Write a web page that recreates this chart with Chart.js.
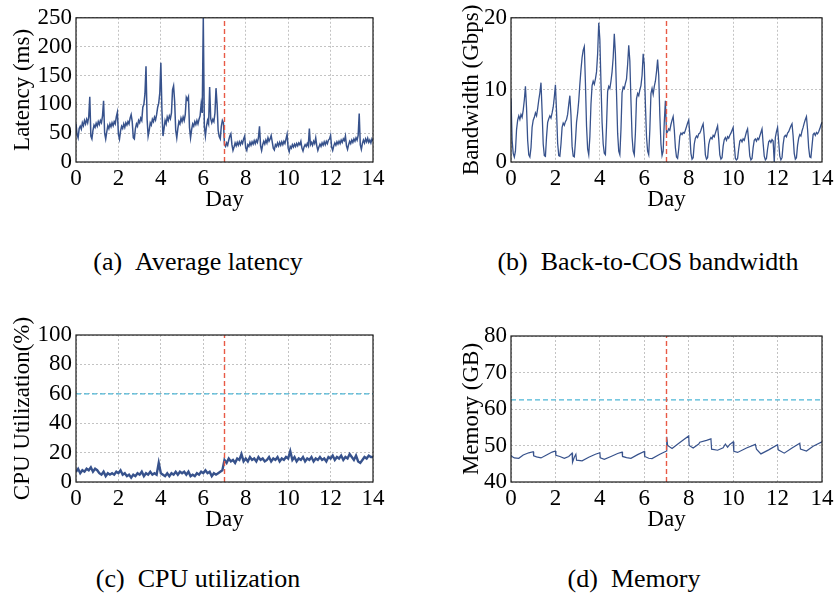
<!DOCTYPE html>
<html>
<head>
<meta charset="utf-8">
<script src="https://cdn.jsdelivr.net/npm/chart.js@4.4.1/dist/chart.umd.min.js"></script>
<style>
  html, body { margin: 0; padding: 0; background: #fff; }
  #page { position: relative; width: 837px; height: 595px; overflow: hidden; }
  canvas { position: absolute; }
  .cap { position: absolute; font-family: "Liberation Serif", "DejaVu Serif", serif; font-size: 26px; color: #000; white-space: nowrap; transform: translateX(-50%); line-height: 1; }
</style>
</head>
<body>
<div id="page">
  <canvas id="latChart" width="400" height="215" style="left:0;top:0"></canvas>
  <canvas id="bwChart" width="397" height="215" style="left:440px;top:0"></canvas>
  <canvas id="cpuChart" width="400" height="235" style="left:0;top:300px"></canvas>
  <canvas id="memChart" width="397" height="235" style="left:440px;top:300px"></canvas>
  <div class="cap" style="left:198px;top:249px">(a)&nbsp;&nbsp;Average latency</div>
  <div class="cap" style="left:648px;top:249px">(b)&nbsp;&nbsp;Back-to-COS bandwidth</div>
  <div class="cap" style="left:198px;top:566px">(c)&nbsp;&nbsp;CPU utilization</div>
  <div class="cap" style="left:634px;top:566px">(d)&nbsp;&nbsp;Memory</div>
</div>
<script>
/* global Chart */

// x axis: days, one sample every 0.05 day for latency / bandwidth, 0.1 day for CPU
var DAY_TICKS = [0, 2, 4, 6, 8, 10, 12, 14];
var SPLIT_DAY = 7;
var CPU_LIMIT = 60;
var MEM_LIMIT = 62.5;

var LAT_STEP = 0.05;
// latency (ms), one row per day
var LATENCY_MS = [
  66, 48, 42, 58, 62, 57, 68, 63, 72, 66, 74, 68, 78, 113, 45, 40, 55, 64, 60, 67,
  62, 70, 65, 72, 68, 80, 106, 50, 40, 52, 63, 58, 66, 61, 68, 63, 70, 66, 78, 86,
  48, 40, 54, 62, 58, 66, 60, 68, 64, 70, 66, 76, 82, 70, 42, 40, 58, 66, 62, 72,
  68, 76, 72, 95, 100, 118, 166, 75, 45, 55, 68, 64, 74, 70, 78, 73, 82, 95, 102, 120,
  172, 90, 45, 58, 72, 66, 78, 72, 80, 75, 85, 125, 132, 105, 55, 42, 58, 70, 66, 76,
  70, 78, 72, 82, 112, 108, 113, 60, 42, 56, 66, 62, 70, 65, 72, 66, 74, 80, 100, 85,
  250, 62, 45, 62, 72, 66, 130, 75, 68, 74, 70, 85, 128, 100, 55, 44, 40, 62, 72, 68,
  30, 27, 33, 29, 38, 45, 49, 30, 20, 26, 33, 28, 34, 29, 35, 30, 36, 32, 40, 45,
  24, 20, 30, 27, 34, 29, 35, 31, 37, 32, 38, 34, 42, 62, 28, 20, 30, 36, 31, 38,
  33, 42, 36, 40, 46, 35, 24, 21, 30, 27, 33, 28, 34, 29, 35, 30, 36, 32, 40, 48,
  24, 18, 27, 24, 30, 26, 31, 27, 32, 28, 33, 30, 36, 24, 19, 26, 30, 27, 32, 28,
  58, 30, 34, 29, 36, 32, 42, 28, 20, 26, 31, 27, 33, 29, 35, 30, 36, 32, 38, 40,
  46, 26, 20, 28, 33, 29, 35, 31, 36, 32, 38, 34, 40, 37, 45, 28, 22, 30, 36, 32,
  38, 34, 40, 36, 42, 38, 46, 84, 30, 22, 32, 38, 33, 40, 35, 41, 34, 38, 33, 40,
  36
];

var BW_STEP = 0.05;
// back-to-COS bandwidth (Gbps), one row per day
var BANDWIDTH_GBPS = [
  8.8, 3.0, 1.2, 0.7, 1.5, 4.5, 5.8, 6.4, 5.9, 6.6, 6.2, 7.2, 8.6, 10.5, 7.5, 3.0, 1.0, 0.7, 2.0, 4.8,
  5.8, 6.2, 6.8, 6.4, 7.4, 8.6, 9.6, 11.0, 7.0, 2.5, 0.9, 0.8, 3.5, 5.5, 6.0, 6.4, 6.1, 6.8, 7.6, 9.0,
  10.7, 7.0, 2.6, 0.9, 0.8, 2.5, 4.8, 5.4, 5.1, 5.6, 5.9, 6.6, 8.0, 9.2, 6.5, 2.2, 0.8, 0.7, 2.8, 5.5,
  6.8, 8.5, 10.8, 12.8, 14.5, 15.5, 16.0, 11.0, 5.0, 1.8, 1.0, 3.5, 8.0, 10.6, 11.2, 10.8, 11.5, 12.5, 15.0, 19.3,
  17.0, 11.0, 5.5, 2.5, 1.2, 1.0, 5.0, 9.8, 10.5, 10.2, 11.2, 12.5, 14.5, 17.8, 15.0, 9.5, 4.0, 1.5, 1.0, 4.5,
  9.6, 10.4, 10.2, 10.9, 11.5, 13.5, 16.2, 14.0, 8.5, 3.5, 1.5, 1.0, 4.0, 8.8, 9.5, 9.2, 10.0, 10.6, 12.0, 15.0,
  13.5, 8.0, 3.5, 1.5, 1.0, 4.5, 9.5, 10.2, 9.4, 10.5, 11.2, 12.5, 14.2, 12.0, 6.5, 2.5, 0.9, 1.5, 5.5, 8.5,
  4.0, 4.2, 4.6, 4.4, 5.2, 5.8, 6.3, 4.5, 2.0, 0.7, 0.5, 1.8, 3.6, 4.0, 3.8, 4.1, 4.0, 4.4, 4.9, 5.4,
  5.8, 3.8, 1.2, 0.4, 0.6, 2.5, 3.3, 3.6, 3.4, 3.9, 4.0, 4.4, 4.9, 5.3, 3.5, 1.0, 0.4, 0.6, 2.4, 3.1,
  3.4, 3.2, 3.7, 3.5, 4.0, 4.5, 5.0, 3.2, 1.0, 0.4, 0.6, 2.2, 3.1, 3.4, 3.0, 3.5, 3.3, 3.7, 4.0, 4.4,
  4.8, 2.5, 0.5, 0.3, 0.5, 1.8, 2.9, 3.1, 2.8, 3.2, 3.0, 3.6, 4.2, 4.6, 2.8, 0.8, 0.3, 0.5, 2.0, 3.0,
  3.2, 2.9, 3.3, 3.1, 3.6, 4.1, 4.6, 2.6, 0.8, 0.3, 0.5, 1.8, 2.8, 3.0, 2.7, 3.1, 2.9, 0.0, 3.4, 4.2,
  4.8, 2.8, 0.8, 0.3, 0.6, 2.4, 3.5, 3.7, 3.5, 4.0, 4.2, 4.6, 5.0, 5.3, 3.6, 1.2, 0.4, 0.6, 2.3, 3.3,
  3.8, 3.6, 4.3, 4.8, 5.4, 5.9, 6.3, 4.5, 2.0, 0.7, 0.6, 2.2, 3.8, 4.0, 3.7, 4.1, 3.9, 4.2, 4.6, 5.1,
  5.5
];

var CPU_STEP = 0.1;
// CPU utilization (%), one row per day
var CPU_PCT = [
  7, 9, 6, 8, 7, 9, 8, 10, 7, 9,
  8, 6, 5, 7, 4, 6, 5, 6, 5, 7,
  6, 8, 5, 6, 4, 5, 3, 5, 4, 6,
  5, 7, 4, 6, 5, 7, 5, 6, 5, 13,
  6, 5, 4, 6, 4, 6, 5, 7, 5, 7,
  6, 7, 5, 7, 4, 5, 4, 6, 5, 7,
  6, 8, 6, 7, 4, 6, 5, 6, 7, 8,
  15, 13, 16, 14, 15, 13, 16, 15, 19, 14,
  16, 14, 17, 15, 16, 14, 17, 15, 16, 14,
  15, 17, 14, 16, 15, 17, 14, 16, 15, 17,
  16, 21, 15, 17, 14, 16, 15, 17, 14, 16,
  15, 17, 14, 16, 15, 17, 15, 16, 14, 17,
  16, 18, 15, 17, 16, 18, 15, 17, 16, 19,
  17, 15, 18, 14, 13, 15, 17, 16, 18, 17,
  17
];

// memory (GB): sawtooth, so sampled at its corners
var MEM_DAYS = [
  0.00, 0.05, 0.15, 0.35, 0.55, 0.80, 1.00, 1.02, 1.15, 1.35, 1.60, 1.85, 2.00, 2.02, 2.20, 2.40,
  2.60, 2.75, 2.77, 2.85, 2.92, 2.95, 3.20, 3.50, 3.80, 4.00, 4.02, 4.20, 4.50, 4.80, 5.00, 5.02,
  5.20, 5.40, 5.70, 6.00, 6.02, 6.20, 6.35, 6.70, 7.00, 7.01, 7.05, 7.25, 7.60, 8.00, 8.02, 8.20,
  8.45, 8.50, 8.80, 9.00, 9.03, 9.30, 9.55, 9.65, 9.75, 9.85, 10.00, 10.03, 10.20, 10.60, 11.00,
  11.05, 11.25, 11.60, 12.00, 12.03, 12.30, 12.65, 13.00, 13.03, 13.30, 13.60, 14.00
];
var MEM_GB = [
  47.3, 47.0, 46.6, 46.5, 47.4, 48.0, 48.3, 47.2, 46.9, 46.6, 47.4, 48.2, 48.5, 47.3, 47.0, 46.5,
  47.0, 47.9, 45.4, 46.8, 47.6, 46.0, 45.8, 46.8, 47.6, 48.0, 46.6, 46.2, 47.0, 47.8, 48.2, 47.0,
  46.7, 46.5, 47.5, 48.4, 47.0, 46.5, 46.4, 47.6, 48.5, 52.4, 50.0, 49.2, 50.8, 52.6, 50.0, 49.3,
  50.4, 50.9, 51.4, 51.8, 49.0, 48.7, 49.4, 50.4, 49.5, 50.3, 51.0, 48.4, 48.1, 49.3, 50.3,
  49.0, 47.7, 48.8, 50.2, 48.8, 47.9, 49.3, 50.6, 49.0, 48.5, 49.8, 51.0
];

var SERIES_COLOR = "#37528c";
var SPLIT_COLOR = "#e85a45";
var LIMIT_COLOR = "#4cb6d6";
var FONT = '"Liberation Serif", "DejaVu Serif", serif';

Chart.defaults.font.family = FONT;
Chart.defaults.color = "#000";

function qs(id) {
  return document.getElementById(id);
}

function sampled(values, step) {
  return values.map(function (v, i) { return { x: i * step, y: v }; });
}

function paired(xs, ys) {
  return xs.map(function (x, i) { return { x: x, y: ys[i] }; });
}

var framePlugin = {
  id: "frame",
  afterDraw: function (chart) {
    var a = chart.chartArea, ctx = chart.ctx;
    ctx.save();
    ctx.strokeStyle = "#1a1a1a";
    ctx.lineWidth = 1.2;
    ctx.strokeRect(a.left, a.top, a.right - a.left, a.bottom - a.top);
    ctx.restore();
  },
};

function splitLine(yMin, yMax) {
  return {
    data: [{ x: SPLIT_DAY, y: yMin }, { x: SPLIT_DAY, y: yMax }],
    borderColor: SPLIT_COLOR, borderWidth: 1.4, borderDash: [5, 3], pointRadius: 0,
  };
}

function limitLine(v) {
  return {
    data: [{ x: DAY_TICKS[0], y: v }, { x: DAY_TICKS[DAY_TICKS.length - 1], y: v }],
    borderColor: LIMIT_COLOR, borderWidth: 1.2, borderDash: [5, 3], pointRadius: 0,
  };
}

function seriesLine(points, width) {
  return { data: points, borderColor: SERIES_COLOR, borderWidth: width, pointRadius: 0, tension: 0 };
}

function makeChart(id, c) {
  var tickFont = { size: 23, family: FONT };
  var grid = { color: "#b4b4b4", lineWidth: 0.8, drawTicks: false };
  var border = { display: false, dash: [2, 2] };
  // eslint-disable-next-line no-new
  new Chart(qs(id), {
    type: "line",
    data: { datasets: c.datasets },
    options: {
      responsive: false,
      animation: false,
      events: [],
      layout: { padding: { top: c.padTop, right: c.padRight, left: 0, bottom: 0 } },
      plugins: { legend: { display: false }, tooltip: { enabled: false } },
      scales: {
        x: {
          type: "linear", min: DAY_TICKS[0], max: DAY_TICKS[DAY_TICKS.length - 1],
          afterBuildTicks: function (s) { s.ticks = DAY_TICKS.map(function (v) { return { value: v }; }); },
          ticks: { font: tickFont, padding: 3, autoSkip: false, maxRotation: 0 },
          grid: grid, border: border,
          title: { display: true, text: "Day", font: tickFont, padding: { top: 0, bottom: 1 } },
          afterFit: function (s) { s.height = c.xHeight; },
        },
        y: {
          type: "linear", min: c.yTicks[0], max: c.yTicks[c.yTicks.length - 1],
          afterBuildTicks: function (s) { s.ticks = c.yTicks.map(function (v) { return { value: v }; }); },
          ticks: { font: tickFont, padding: 4, autoSkip: false },
          grid: grid, border: border,
          title: { display: true, text: c.yTitle, font: tickFont, padding: { top: c.titlePad, bottom: 0 } },
          afterFit: function (s) { s.width = c.yWidth; },
        },
      },
    },
    plugins: [framePlugin],
  });
}

window.addEventListener("DOMContentLoaded", function () {
  var latTicks = [0, 50, 100, 150, 200, 250];
  makeChart("latChart", {
    yTicks: latTicks, yTitle: "Latency (ms)", yWidth: 76, titlePad: 9, padTop: 15, padRight: 27, xHeight: 53,
    datasets: [splitLine(0, 250), seriesLine(sampled(LATENCY_MS, LAT_STEP), 1.5)],
  });
  var bwTicks = [0, 10, 20];
  makeChart("bwChart", {
    yTicks: bwTicks, yTitle: "Bandwidth (Gbps)", yWidth: 71, titlePad: 18, padTop: 16, padRight: 15, xHeight: 53,
    datasets: [splitLine(0, 20), seriesLine(sampled(BANDWIDTH_GBPS, BW_STEP), 1.3)],
  });
  var cpuTicks = [0, 20, 40, 60, 80, 100];
  makeChart("cpuChart", {
    yTicks: cpuTicks, yTitle: "CPU Utilization(%)", yWidth: 76, titlePad: 9, padTop: 35, padRight: 27, xHeight: 53,
    datasets: [splitLine(0, 100), limitLine(CPU_LIMIT), seriesLine(sampled(CPU_PCT, CPU_STEP), 2.4)],
  });
  var memTicks = [40, 50, 60, 70, 80];
  makeChart("memChart", {
    yTicks: memTicks, yTitle: "Memory (GB)", yWidth: 71, titlePad: 18, padTop: 36, padRight: 15, xHeight: 53,
    datasets: [splitLine(40, 80), limitLine(MEM_LIMIT), seriesLine(paired(MEM_DAYS, MEM_GB), 1.2)],
  });
});
</script>
</body>
</html>
